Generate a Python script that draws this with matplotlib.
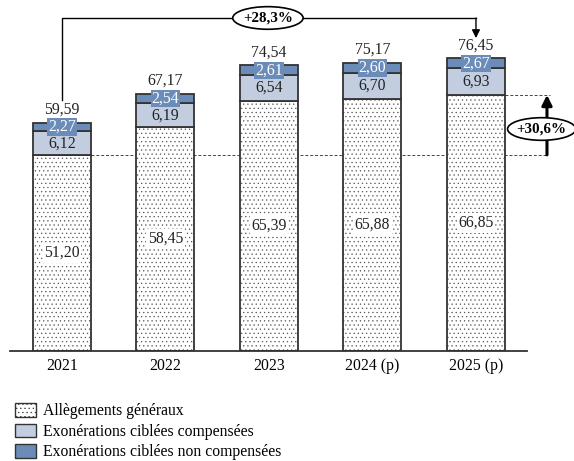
import matplotlib
matplotlib.use("Agg")
import matplotlib.pyplot as plt
from matplotlib.patches import Patch, Ellipse
import numpy as np

plt.rcParams['font.family'] = ['Liberation Serif', 'DejaVu Serif']
plt.rcParams['hatch.linewidth'] = 0.4

years = ["2021", "2022", "2023", "2024 (p)", "2025 (p)"]
allegements = [51.20, 58.45, 65.39, 65.88, 66.85]
compensees = [6.12, 6.19, 6.54, 6.70, 6.93]
non_compensees = [2.27, 2.54, 2.61, 2.60, 2.67]
totaux = [59.59, 67.17, 74.54, 75.17, 76.45]
evol_total = "+28,3%"
evol_allegements = "+30,6%"

labels_legend = ["Allègements généraux",
                 "Exonérations ciblées compensées",
                 "Exonérations ciblées non compensées"]

c_light = "#c3cde0"
c_dark = "#6b8bb8"
edge = "#333333"

fmt = lambda v: f"{v:.2f}".replace(".", ",")

W, H = 574, 461
fig = plt.figure(figsize=(W / 100, H / 100), dpi=100)
ax = fig.add_axes([10 / W, (H - 351) / H, 517 / W, 341 / H])

x = np.arange(len(years))
bw = 0.56
a = np.array(allegements)
c = np.array(compensees)
n = np.array(non_compensees)

# dotted base segment
ax.bar(x, a, bw, color="white", edgecolor="#555555", hatch="....", linewidth=0, zorder=2)
ax.bar(x, a, bw, color="none", edgecolor=edge, linewidth=1.3, zorder=3)
ax.bar(x, c, bw, bottom=a, color=c_light, edgecolor=edge, linewidth=1.3, zorder=3)
ax.bar(x, n, bw, bottom=a + c, color=c_dark, edgecolor=edge, linewidth=1.3, zorder=3)

fs = 11.3
for i in range(len(years)):
    ax.text(x[i], a[i] / 2, fmt(a[i]), ha="center", va="center", fontsize=fs,
            color="#222222", zorder=5,
            bbox=dict(boxstyle="square,pad=0.1", fc="white", ec="none"))
    ax.text(x[i], a[i] + c[i] / 2, fmt(c[i]), ha="center", va="center",
            fontsize=fs, color="#222222", zorder=5)
    ax.text(x[i], a[i] + c[i] + n[i] / 2, fmt(n[i]), ha="center", va="center",
            fontsize=fs, color="white", zorder=5,
            bbox=dict(boxstyle="square,pad=0.05", fc=c_dark, ec="none"))
    ax.text(x[i], totaux[i] + 1.3, fmt(totaux[i]), ha="center", va="bottom",
            fontsize=fs, color="#222222", zorder=5)

ax.set_xlim(-0.502, 4.493)
ax.set_ylim(0, 89.03)
ax.set_xticks(x)
ax.set_xticklabels(years, fontsize=fs)
ax.tick_params(axis="x", length=0, pad=5)
ax.set_yticks([])
for s in ["top", "right", "left"]:
    ax.spines[s].set_visible(False)
ax.spines["bottom"].set_color(edge)
ax.spines["bottom"].set_linewidth(1.3)

# dashed reference lines
xa = 4.686
ax.plot([x[0] + bw / 2, xa], [a[0], a[0]], ls=(0, (3, 2)), lw=0.7,
        color="#444444", clip_on=False, zorder=1)
ax.plot([x[4] + bw / 2, xa + 0.03], [a[4], a[4]], ls=(0, (3, 2)), lw=0.7,
        color="#444444", clip_on=False, zorder=1)

# vertical arrow for base segment growth
ax.annotate("", xy=(xa, a[4]), xytext=(xa, a[0]),
            arrowprops=dict(arrowstyle="-|>", lw=2.2, color="black",
                            mutation_scale=15, shrinkA=0, shrinkB=0),
            annotation_clip=False)
ax.add_patch(Ellipse((4.635, 57.96), 0.66, 5.9, fc="white", ec="black",
                     lw=1.2, zorder=6, clip_on=False))
ax.text(4.635, 57.96, evol_allegements, ha="center", va="center",
        fontsize=10.8, fontweight="bold", zorder=7)

# bracket for total growth
ytop = 86.95
ax.plot([x[0], x[0], x[4]], [65.5, ytop, ytop], color="black",
        lw=1.0, clip_on=False)
ax.annotate("", xy=(x[4], 81.7), xytext=(x[4], ytop),
            arrowprops=dict(arrowstyle="-|>", lw=1.0, color="black",
                            mutation_scale=12, shrinkA=0, shrinkB=0),
            annotation_clip=False)
ax.add_patch(Ellipse((1.99, ytop), 0.68, 5.9, fc="white", ec="black",
                     lw=1.2, zorder=6, clip_on=False))
ax.text(1.99, ytop, evol_total, ha="center", va="center", fontsize=10.8,
        fontweight="bold", zorder=7)

handles = [Patch(fc="white", ec=edge, hatch="...."),
           Patch(fc=c_light, ec=edge),
           Patch(fc=c_dark, ec=edge)]
fig.legend(handles, labels_legend, loc="upper left",
           bbox_to_anchor=(12 / W, 1 - 400 / H), frameon=False, fontsize=fs,
           handlelength=1.3, handleheight=0.95, handletextpad=0.45,
           labelspacing=0.28, borderaxespad=0, borderpad=0.2)

fig.savefig("out.png", dpi=100)
